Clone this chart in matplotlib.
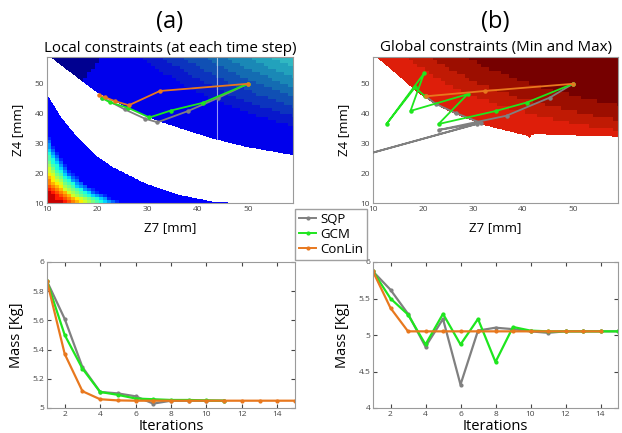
import numpy as np
import matplotlib
matplotlib.use("Agg")
import matplotlib.pyplot as plt
from matplotlib.lines import Line2D
from matplotlib.colors import to_rgb

plt.rcParams['font.family'] = ['Open Sans', 'DejaVu Sans']

SQP_C = '#808080'
GCM_C = '#1EE61E'
CON_C = '#E8781E'

# mass history (Kg) per iteration
sqp_mass_local = [5.868, 5.61, 5.28, 5.11, 5.10, 5.08, 5.03, 5.05, 5.05, 5.05, 5.05]
gcm_mass_local = [5.868, 5.50, 5.27, 5.11, 5.09, 5.065, 5.06, 5.055, 5.055, 5.052, 5.05]
con_mass_local = [5.868, 5.37, 5.115, 5.06, 5.052, 5.05, 5.05, 5.05, 5.05, 5.05,
                  5.05, 5.05, 5.05, 5.05, 5.05]

sqp_mass_global = [5.87, 5.62, 5.29, 4.84, 5.22, 4.32, 5.06, 5.10, 5.08, 5.05,
                   5.03, 5.05, 5.05, 5.05, 5.05]
gcm_mass_global = [5.87, 5.50, 5.28, 4.87, 5.29, 4.87, 5.22, 4.63, 5.11, 5.06,
                   5.05, 5.05, 5.05, 5.05, 5.05]
con_mass_global = [5.87, 5.37, 5.05, 5.05, 5.05, 5.05, 5.05, 5.05, 5.05, 5.05,
                   5.05, 5.05, 5.05, 5.05]

# design paths in the (Z7, Z4) plane
sqp_a_z7 = [50, 44, 38, 32, 29.5, 25.5, 21]
sqp_a_z4 = [50, 45.2, 40.8, 37.1, 38.3, 41.4, 45.4]
gcm_a_z7 = [50, 41, 34.6, 30.4, 26.2, 22.5, 21.0]
gcm_a_z4 = [50, 43.6, 41.0, 38.7, 41.9, 43.8, 45.2]
con_a_z7 = [50, 32.5, 26.3, 23.5, 21.5, 20.3]
con_a_z4 = [50, 47.6, 42.8, 44.2, 45.5, 46.3]

sqp_b_z7 = [50, 45.4, 36.7, 23.1, 30.8, 5.0, 31.6, 26.5, 22.5, 20.5]
sqp_b_z4 = [50, 45.4, 39.3, 34.5, 36.6, 24.6, 36.9, 40.2, 43.3, 45.8]
gcm_b_z7 = [50, 40.7, 34.6, 23.1, 28.9, 17.5, 20.2, 12.7, 18.4, 20.4]
gcm_b_z4 = [50, 43.7, 40.9, 36.5, 46.5, 40.9, 53.5, 36.5, 48.8, 45.8]
con_b_z7 = [50, 32.4, 20.5]
con_b_z4 = [50, 47.6, 45.8]

# outlines of the constraint regions
a_upper_z7 = [9, 10.6, 16.2, 20.2, 26.2, 31.5, 37.5, 42.8, 49.4, 59, 60]
a_upper_z4 = [61, 59, 51.8, 46.8, 41.8, 37.9, 34.5, 31.7, 28.9, 26.1, 25.8]
a_lower_z7 = [9, 10, 12.9, 16.2, 19.6, 22.9, 29.5, 36.2, 42.8, 46.8, 50, 60]
a_lower_z4 = [48, 46.2, 38.4, 31.7, 26.1, 22.2, 16.6, 12.7, 10.5, 10.0, 9.0, 8.0]
a_gap_z7 = 43.8

b_edge_z7 = [9, 10.7, 13.4, 16.1, 18.7, 20.1, 22.7, 26.1, 29.4, 32.1, 34.7, 37.4,
             40.1, 40.9, 41.3, 41.8, 42.7, 46.7, 52, 59, 60]
b_edge_z4 = [61, 59, 55.2, 51.3, 47.4, 45.7, 42.9, 40.1, 37.9, 36.2, 35.1, 34.0,
             32.8, 32.6, 31.8, 32.8, 33.1, 32.8, 32.6, 32.3, 32.3]

# colour bands
a_upper_levels = [625, 682, 739, 796, 853, 910, 967]
a_upper_colors = ['#0000EC', '#0818CC', '#0C34BE', '#1050B4', '#146CB2',
                  '#1A88B6', '#22A2BC', '#30B8C2']
a_navy = '#000090'
b_levels = [206, 228, 258]
b_colors = ['#DE1E0A', '#C01A04', '#9C0E00', '#760000']

LIM = (10, 59)


def grids(sx=0.8, sy=1.0, n=490):
    f = np.linspace(LIM[0], LIM[1], n)
    fx, fy = np.meshgrid(f, f)
    cx = LIM[0] + (np.floor((fx - LIM[0]) / sx) + 0.5) * sx
    cy = LIM[0] + (np.floor((fy - LIM[0]) / sy) + 0.5) * sy
    return fx, fy, cx, cy


def local_image():
    fx, fy, cx, cy = grids()
    img = np.ones(fx.shape + (3,))
    up = np.interp(fx, a_upper_z7, a_upper_z4)
    lo = np.interp(fx, a_lower_z7, a_lower_z4)
    upper = fy > up
    lower = fy < lo
    w = cy * cx ** 0.7
    idx = np.digitize(w, a_upper_levels)
    cols = np.array([to_rgb(c) for c in a_upper_colors])
    img[upper] = cols[idx[upper]]
    navy = upper & (cx + 0.5 * (59 - cy) < 21)
    img[navy] = to_rgb(a_navy)
    q = 10 * cy * (cx / 10) ** 1.3
    v = np.clip((376 - q) / 254, 0.11, 0.95)
    v = np.round(v / 0.055) * 0.055
    jet = plt.get_cmap('jet')(v)[..., :3]
    img[lower] = jet[lower]
    return img


def global_image():
    fx, fy, cx, cy = grids(0.8, 1.2)
    img = np.ones(fx.shape + (3,))
    edge = np.interp(fx, b_edge_z7, b_edge_z4)
    region = fy > edge
    w = cy * cx ** 0.44
    idx = np.digitize(w, b_levels)
    cols = np.array([to_rgb(c) for c in b_colors])
    img[region] = cols[idx[region]]
    return img


def style_axes(ax, ticks_in=True):
    for s in ax.spines.values():
        s.set_color('#9a9a9a')
        s.set_linewidth(0.8)
    ax.tick_params(labelsize=6, colors='#444444', direction='in',
                   length=3 if ticks_in else 0, top=ticks_in, right=ticks_in,
                   pad=2)


def path(ax, x, y, c):
    ax.plot(x, y, color=c, lw=1.3, marker='o', ms=2.2, mec=c, zorder=3)


fig = plt.figure(figsize=(6.22, 4.33), dpi=100)
W, H = 622, 433


def box(l, t, r, b):
    return [l / W, 1 - b / H, (r - l) / W, (b - t) / H]


ax_a = fig.add_axes(box(47, 57, 293, 203))
ax_b = fig.add_axes(box(373, 57, 618, 203))
ax_c = fig.add_axes(box(47, 262, 295, 408))
ax_d = fig.add_axes(box(373, 262, 618, 408))

# top: constraint maps with design paths
for ax, img in ((ax_a, local_image()), (ax_b, global_image())):
    ax.imshow(img, origin='lower', extent=(LIM[0], LIM[1], LIM[0], LIM[1]),
              aspect='auto', interpolation='nearest', zorder=0)
    ax.set_xlim(*LIM)
    ax.set_ylim(*LIM)
    ax.set_xticks([10, 20, 30, 40, 50])
    ax.set_yticks([10, 20, 30, 40, 50])
    style_axes(ax, ticks_in=False)
    ax.set_xlabel('Z7 [mm]', fontsize=9.5, labelpad=6)
    ax.set_ylabel('Z4 [mm]', fontsize=9.5, labelpad=8)

ax_a.vlines(a_gap_z7, np.interp(a_gap_z7, a_upper_z7, a_upper_z4), LIM[1],
            color='white', lw=0.8, alpha=0.6, zorder=1)

path(ax_a, sqp_a_z7, sqp_a_z4, SQP_C)
path(ax_a, gcm_a_z7, gcm_a_z4, GCM_C)
path(ax_a, con_a_z7, con_a_z4, CON_C)
path(ax_b, sqp_b_z7, sqp_b_z4, SQP_C)
path(ax_b, gcm_b_z7, gcm_b_z4, GCM_C)
path(ax_b, con_b_z7, con_b_z4, CON_C)

# bottom: mass convergence
for ax, series in ((ax_c, (sqp_mass_local, gcm_mass_local, con_mass_local)),
                   (ax_d, (sqp_mass_global, gcm_mass_global, con_mass_global))):
    for vals, c in zip(series, (SQP_C, GCM_C, CON_C)):
        ax.plot(np.arange(1, len(vals) + 1), vals, color=c, lw=1.6,
                marker='.', ms=4)
    ax.set_xlim(1, 15)
    ax.set_xticks([2, 4, 6, 8, 10, 12, 14])
    style_axes(ax)
    ax.set_xlabel('Iterations', fontsize=10.5, labelpad=1)
    ax.set_ylabel('Mass [Kg]', fontsize=10.5, labelpad=6)

ax_c.set_ylim(5, 6)
ax_c.set_yticks([5, 5.2, 5.4, 5.6, 5.8, 6])
ax_c.set_yticklabels(['5', '5.2', '5.4', '5.6', '5.8', '6'])
ax_d.set_ylim(4, 6)
ax_d.set_yticks([4, 4.5, 5, 5.5, 6])
ax_d.set_yticklabels(['4', '4.5', '5', '5.5', '6'])

# panel headings
for ax, tag, sub in ((ax_a, '(a)', 'Local constraints (at each time step)'),
                     (ax_b, '(b)', 'Global constraints (Min and Max)')):
    pos = ax.get_position()
    cx = pos.x0 + pos.width / 2
    fig.text(cx, 1 - 22 / H, tag, ha='center', va='center', fontsize=17)
    fig.text(cx, 1 - 48 / H, sub, ha='center', va='center', fontsize=10.9)

handles = [Line2D([], [], color=c, lw=1.4, marker='.', ms=4)
           for c in (SQP_C, GCM_C, CON_C)]
fig.legend(handles, ['SQP', 'GCM', 'ConLin'], loc='upper left',
           bbox_to_anchor=(295 / W, 1 - 209 / H), fontsize=9.5, frameon=True,
           fancybox=False, edgecolor='#888888', handlelength=1.3,
           handletextpad=0.3, borderpad=0.3, labelspacing=0.15,
           borderaxespad=0)

fig.savefig('out.png', dpi=100)
